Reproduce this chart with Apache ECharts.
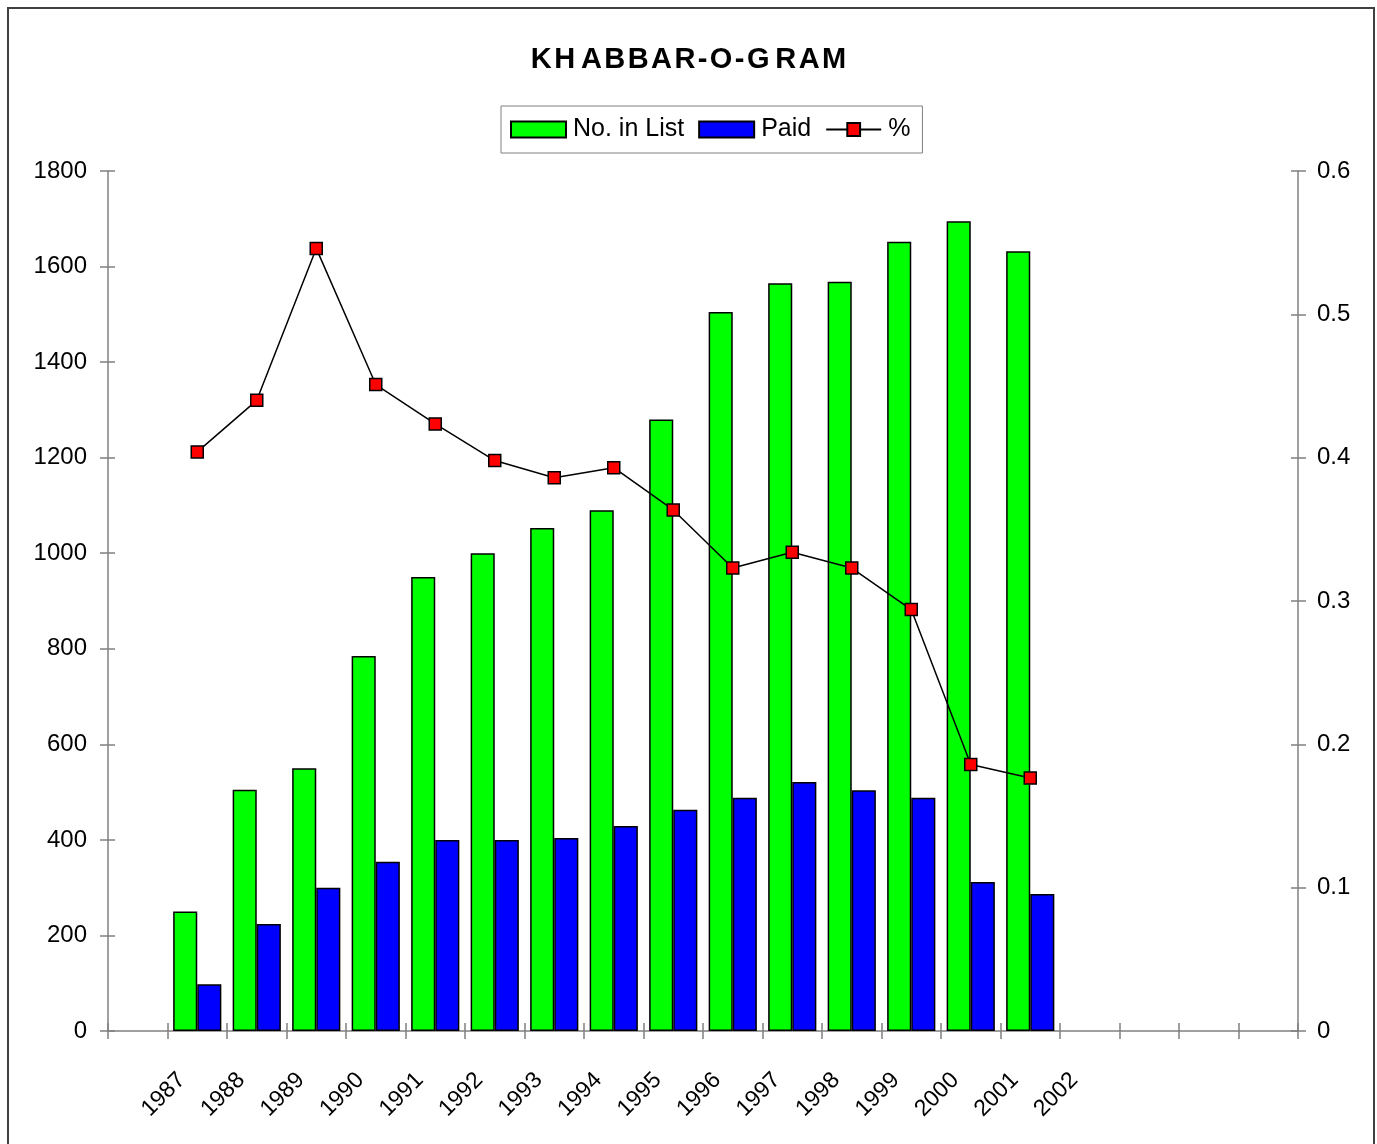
<!DOCTYPE html>
<html>
<head>
<meta charset="utf-8">
<script src="https://cdn.jsdelivr.net/npm/echarts@6/dist/echarts.min.js"></script>
<style>
html,body{margin:0;padding:0;background:#fff;}
#frame{position:absolute;left:7px;top:7px;width:1368px;height:1150px;border:2px solid #404040;box-sizing:border-box;}
#c{position:absolute;left:0;top:0;width:1377px;height:1144px;}
</style>
</head>
<body>
<div id="frame"></div>
<div id="c"></div>
<script>
const categories = ['', '1987', '1988', '1989', '1990', '1991', '1992', '1993', '1994', '1995', '1996', '1997', '1998', '1999', '2000', '2001', '2002', '', '', ''];
const noInList = [null, 250, 505, 550, 785, 950, 1000, 1053, 1090, 1280, 1505, 1565, 1568, 1652, 1695, 1632, null, null, null, null];
const paid = [null, 98, 224, 300, 354, 400, 400, 404, 429, 463, 488, 521, 504, 488, 312, 287, null, null, null, null];
const pct = [null, 0.404, 0.440, 0.546, 0.451, 0.4235, 0.398, 0.386, 0.393, 0.3635, 0.323, 0.334, 0.323, 0.294, 0.186, 0.1765, null, null, null, null];
const leftTicks = {min: 0, max: 1800, interval: 200};
const rightTicks = {min: 0, max: 0.6, interval: 0.1};
const titleText = 'K\u200AH\u2009A\u200AB\u200AB\u200AA\u200AR\u200A-\u200AO\u200A-\u200AG\u2009R\u200AA\u200AM';

const chart = echarts.init(document.getElementById('c'));
const axisGray = '#808080';
const font = 'Liberation Sans, Arial, sans-serif';
chart.setOption({
  animation: false,
  title: {
    text: titleText, left: 'center', top: 40,
    textStyle: {fontFamily: font, fontSize: 29, fontWeight: 'bold', color: '#000'}
  },
  legend: {
    top: 106, left: 501,
    padding: [11, 12, 11, 9],
    borderColor: '#808080', borderWidth: 1, borderRadius: 0,
    itemWidth: 55, itemHeight: 16, itemGap: 14,
    textStyle: {fontFamily: font, fontSize: 25, color: '#000', padding: [0, 0, 0, 2]},
    data: [{name: 'No. in List', icon: 'rect'}, {name: 'Paid', icon: 'rect'}, {name: '%'}]
  },
  grid: {left: 108, right: 79, top: 171, bottom: 113},
  xAxis: [{
    type: 'category', data: categories, boundaryGap: true,
    axisLine: {lineStyle: {color: axisGray, width: 1.5}},
    axisTick: {show: true, interval: 0, length: 8, lineStyle: {color: axisGray, width: 1.5}},
    axisLabel: {interval: 0, rotate: 45, margin: 30, fontFamily: font, fontSize: 23, color: '#000', padding: [0, 22, 0, 0]},
    splitLine: {show: false}
  }, {
    type: 'category', data: categories, boundaryGap: true, position: 'bottom',
    axisLine: {show: false},
    axisTick: {show: true, inside: true, interval: 0, length: 8, lineStyle: {color: axisGray, width: 1.5}},
    axisLabel: {show: false}
  }],
  yAxis: [{
    type: 'value', position: 'left', min: leftTicks.min, max: leftTicks.max, interval: leftTicks.interval,
    axisLine: {show: true, lineStyle: {color: axisGray, width: 1.5}},
    axisTick: {show: true, length: 8, lineStyle: {color: axisGray, width: 1.5}},
    axisLabel: {fontFamily: font, fontSize: 24, color: '#000', margin: 21, formatter: v => String(v)},
    splitLine: {show: false}
  }, {
    type: 'value', position: 'right', min: rightTicks.min, max: rightTicks.max, interval: rightTicks.interval,
    axisLine: {show: true, lineStyle: {color: axisGray, width: 1.5}},
    axisTick: {show: true, length: 8, lineStyle: {color: axisGray, width: 1.5}},
    axisLabel: {fontFamily: font, fontSize: 24, color: '#000', margin: 19, formatter: v => String(+v.toFixed(1))},
    splitLine: {show: false}
  }, {
    type: 'value', position: 'left', min: leftTicks.min, max: leftTicks.max, interval: leftTicks.interval,
    axisLine: {show: false}, axisLabel: {show: false}, splitLine: {show: false},
    axisTick: {show: true, inside: true, length: 7, lineStyle: {color: axisGray, width: 1.5}}
  }, {
    type: 'value', position: 'right', min: rightTicks.min, max: rightTicks.max, interval: rightTicks.interval,
    axisLine: {show: false}, axisLabel: {show: false}, splitLine: {show: false},
    axisTick: {show: true, inside: true, length: 7, lineStyle: {color: axisGray, width: 1.5}}
  }],
  series: [{
    name: 'No. in List', type: 'bar', data: noInList, yAxisIndex: 0,
    barGap: '0%', barCategoryGap: '19%',
    itemStyle: {color: '#00ff00', borderColor: '#000', borderWidth: 1.5}
  }, {
    name: 'Paid', type: 'bar', data: paid, yAxisIndex: 0,
    barGap: '0%', barCategoryGap: '19%',
    itemStyle: {color: '#0000ff', borderColor: '#000', borderWidth: 1.5}
  }, {
    name: '%', type: 'line', data: pct, yAxisIndex: 1, connectNulls: false,
    symbol: 'rect', symbolSize: 12,
    lineStyle: {color: '#000', width: 1.5},
    itemStyle: {color: '#ff0000', borderColor: '#000', borderWidth: 1.5}
  }]
});
</script>
</body>
</html>
